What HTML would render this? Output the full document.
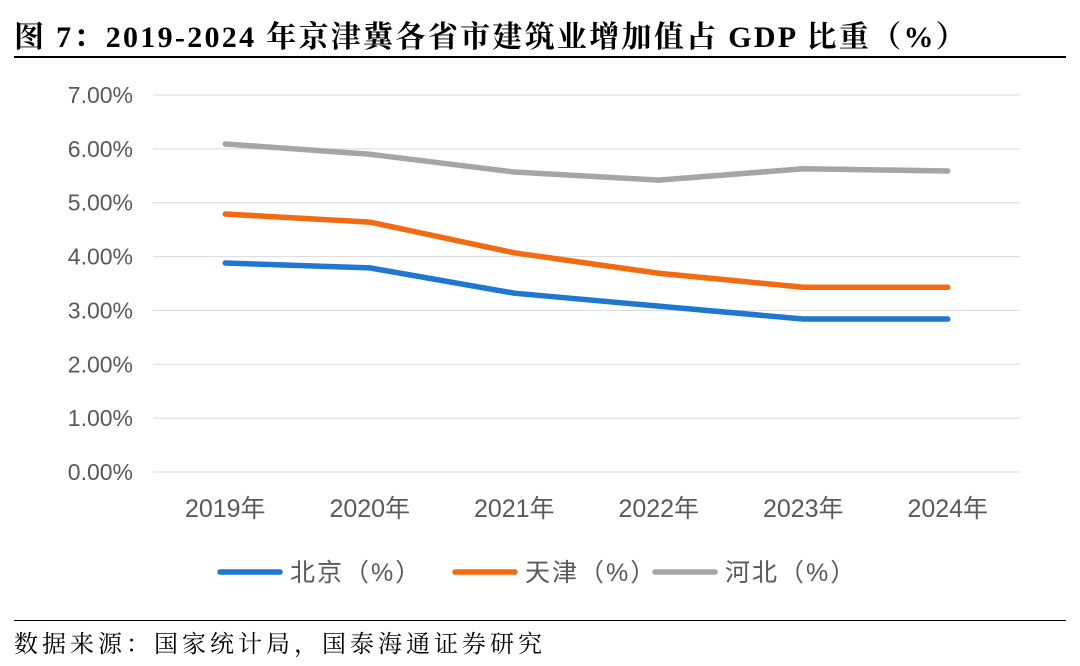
<!DOCTYPE html>
<html><head><meta charset="utf-8">
<style>
body{margin:0;background:#fff;width:1080px;height:666px;overflow:hidden;position:relative;font-family:"Liberation Sans","Noto Sans CJK SC",sans-serif;}
#title{position:absolute;left:14px;top:12px;font-family:"Liberation Serif","Noto Serif CJK SC",serif;font-weight:bold;font-size:30px;letter-spacing:2.3px;color:#000;white-space:nowrap;}
#src{position:absolute;left:14px;top:624px;font-family:"Liberation Serif","Noto Serif CJK SC",serif;font-size:24px;letter-spacing:4px;color:#000;white-space:nowrap;}
.rule{position:absolute;left:14px;width:1052px;height:2px;background:#000;}
</style></head><body>
<div id="title">图 7：2019-2024 年京津冀各省市建筑业增加值占 GDP 比重（%）</div>
<div class="rule" style="top:56px"></div>
<svg id="chart" width="1080" height="666" style="position:absolute;left:0;top:0"></svg>
<div class="rule" style="top:620px;height:1px"></div>
<div id="src">数据来源：国家统计局，国泰海通证券研究</div>
<script>
const categories=["2019年","2020年","2021年","2022年","2023年","2024年"];
const beijing=[3.88,3.79,3.32,3.08,2.84,2.84];
const tianjin=[4.79,4.64,4.07,3.69,3.43,3.43];
const hebei=[6.09,5.90,5.57,5.42,5.63,5.59];
const yTicks=[0,1,2,3,4,5,6,7];
const seriesNames=["北京（%）","天津（%）","河北（%）"];
const colors=["#1f77d0","#f26b12","#a5a5a5"];
const NS="http://www.w3.org/2000/svg";
const svg=document.getElementById('chart');
const x0=153,x1=1020,yTop=95,yBot=472;
const y=v=>yBot-(v/7)*(yBot-yTop);
const band=(x1-x0)/categories.length;
const x=i=>x0+band*(i+0.5);
function mk(t,a){const e=document.createElementNS(NS,t);for(const k in a)e.setAttribute(k,a[k]);svg.appendChild(e);return e;}
yTicks.forEach(v=>{
 const g=mk('line',{x1:x0,x2:x1,y1:y(v),y2:y(v),stroke:'#d9d9d9','stroke-width':1});
 
 
 const t=mk('text',{x:133,y:y(v)+8,'text-anchor':'end','font-size':23,fill:'#595959'});
 t.textContent=v.toFixed(2)+'%';
 
 
});
categories.forEach((c,i)=>{
 const t=mk('text',{x:x(i),y:517,'text-anchor':'middle','font-size':25,fill:'#595959'});
 t.textContent=c;
 
 
});
[beijing,tianjin,hebei].forEach((s,k)=>{
 const p=mk('polyline',{points:s.map((v,i)=>x(i)+','+y(v)).join(' '),fill:'none',stroke:colors[k],'stroke-width':5.5,'stroke-linejoin':'round','stroke-linecap':'round'});
 
 
});
const lx=[220,455,655];
seriesNames.forEach((n,k)=>{
 const l=mk('line',{x1:lx[k],x2:lx[k]+60,y1:572,y2:572,stroke:colors[k],'stroke-width':5.5,'stroke-linecap':'round'});
 
 
 const t=mk('text',{x:lx[k]+70,y:581,'font-size':25,'letter-spacing':2,fill:'#595959'});
 t.textContent=n;
 
 
});
</script>
</body></html>
